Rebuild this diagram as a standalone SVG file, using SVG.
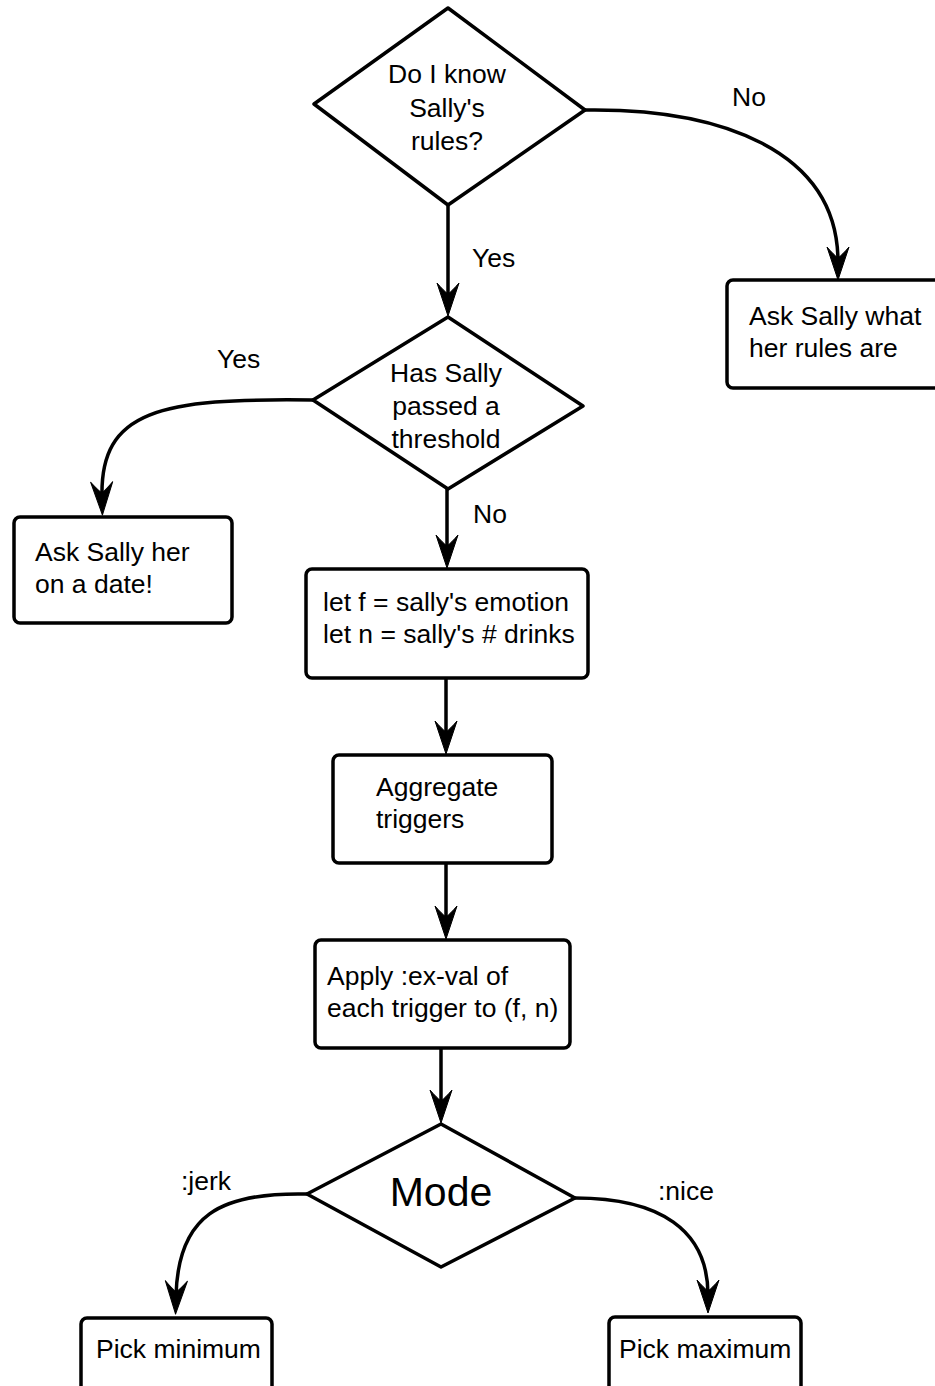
<svg xmlns="http://www.w3.org/2000/svg" width="935" height="1386" viewBox="0 0 935 1386">
<style>
.shape{fill:#fff;stroke:#000;stroke-width:3.5;stroke-linejoin:round}
.dia{fill:#fff;stroke:#000;stroke-width:3.5;stroke-linejoin:round}
.conn{fill:none;stroke:#000;stroke-width:3.5}
text{font-family:"Liberation Sans",Arial,sans-serif;font-size:26.5px;fill:#000}
.c{text-anchor:middle}
</style>
<defs>
<marker id="arr" viewBox="-20 -14 40 28" markerWidth="40" markerHeight="28" refX="0" refY="0" orient="auto" markerUnits="userSpaceOnUse">
<path d="M18,0 L-15,-11 Q-7,-4 -4,0 Q-7,4 -15,11 Z" fill="#000" stroke="#000" stroke-width="1" stroke-linejoin="round"/>
</marker>
</defs>
<rect width="935" height="1386" fill="#fff"/>
<g id="connectors">
<path class="conn" d="M448 205 V298" marker-end="url(#arr)"/>
<path class="conn" d="M585 110 C720 108 838 150 838 262" marker-end="url(#arr)"/>
<path class="conn" d="M313 400 C160 398 100 410 102 497" marker-end="url(#arr)"/>
<path class="conn" d="M447 489 V550" marker-end="url(#arr)"/>
<path class="conn" d="M446 678 V736" marker-end="url(#arr)"/>
<path class="conn" d="M446 863 V921" marker-end="url(#arr)"/>
<path class="conn" d="M441 1048 V1105" marker-end="url(#arr)"/>
<path class="conn" d="M307 1194 C220 1192 178 1215 176 1296" marker-end="url(#arr)"/>
<path class="conn" d="M575 1198 C660 1198 708 1230 708 1295" marker-end="url(#arr)"/>
<text x="732" y="106">No</text>
<text x="472" y="267">Yes</text>
<text x="217" y="368">Yes</text>
<text x="473" y="523">No</text>
<text x="181" y="1190">:jerk</text>
<text x="658" y="1200">:nice</text>
</g>
<g id="know-rules">
<polygon class="dia" points="448,8 585,110 448,205 314,104"/>
<text class="c" x="447" y="83">Do I know</text>
<text class="c" x="447" y="117">Sally's</text>
<text class="c" x="447" y="150">rules?</text>
</g>
<g id="ask-rules">
<rect class="shape" x="727" y="280" width="220" height="108" rx="6"/>
<text x="749" y="325">Ask Sally what</text>
<text x="749" y="357">her rules are</text>
</g>
<g id="threshold">
<polygon class="dia" points="448,317 583,406 448,489 313,400"/>
<text class="c" x="446" y="382">Has Sally</text>
<text class="c" x="446" y="415">passed a</text>
<text class="c" x="446" y="448">threshold</text>
</g>
<g id="ask-date">
<rect class="shape" x="14" y="517" width="218" height="106" rx="6"/>
<text x="35" y="561">Ask Sally her</text>
<text x="35" y="593">on a date!</text>
</g>
<g id="let-vars">
<rect class="shape" x="306" y="569" width="282" height="109" rx="6"/>
<text x="323" y="611">let f = sally's emotion</text>
<text x="323" y="643">let n = sally's # drinks</text>
</g>
<g id="aggregate">
<rect class="shape" x="333" y="755" width="219" height="108" rx="6"/>
<text x="376" y="796">Aggregate</text>
<text x="376" y="828">triggers</text>
</g>
<g id="apply">
<rect class="shape" x="315" y="940" width="255" height="108" rx="6"/>
<text x="327" y="985">Apply :ex-val of</text>
<text x="327" y="1017">each trigger to (f, n)</text>
</g>
<g id="mode">
<polygon class="dia" points="441,1124 575,1198 441,1267 307,1194"/>
<text class="c" x="441" y="1206" style="font-size:41px">Mode</text>
</g>
<g id="pick-min">
<rect class="shape" x="81" y="1318" width="191" height="100" rx="6"/>
<text x="96" y="1358">Pick minimum</text>
</g>
<g id="pick-max">
<rect class="shape" x="609" y="1317" width="192" height="100" rx="6"/>
<text x="619" y="1358">Pick maximum</text>
</g>
</svg>
